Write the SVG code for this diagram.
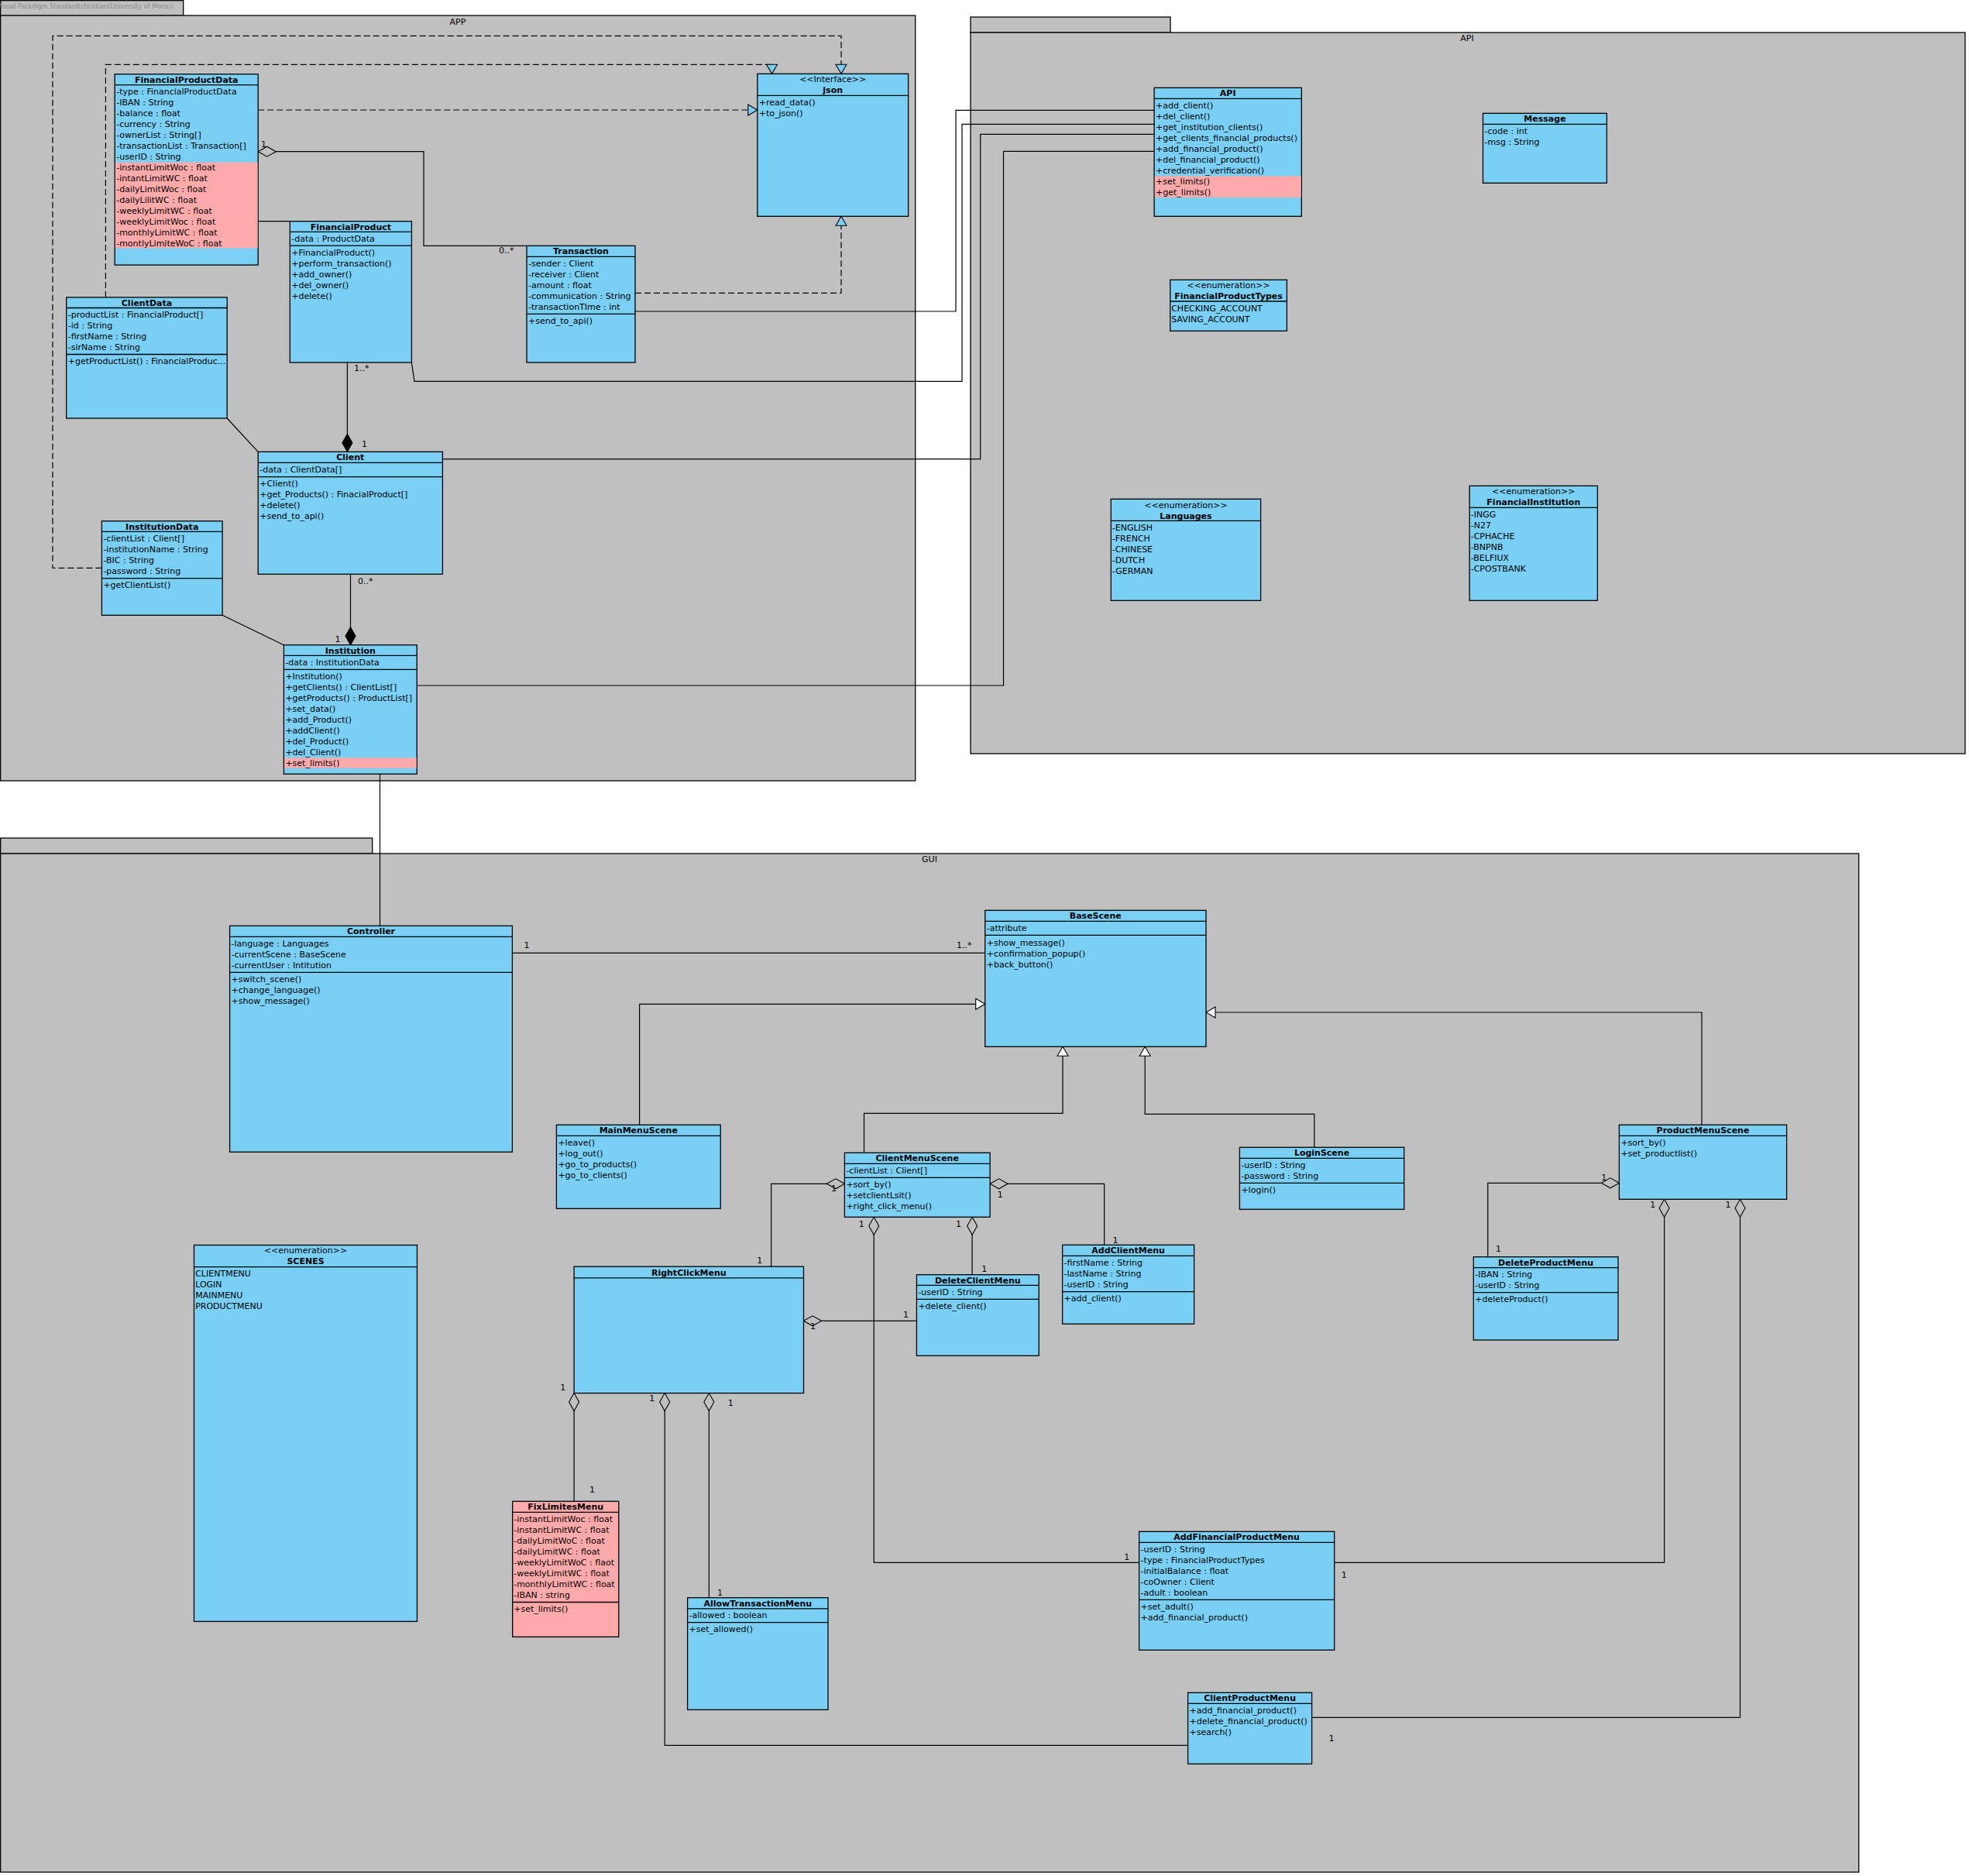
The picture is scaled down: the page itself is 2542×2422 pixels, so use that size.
<svg xmlns="http://www.w3.org/2000/svg" width="2542" height="2422" viewBox="0 0 2542 2422">
<style>
.pkg{fill:#C0C0C0;stroke:#000;stroke-width:1.3}
.cls{fill:#7ACFF5;stroke:#000;stroke-width:1.3}
.pk{fill:#FFAAAA}
.pkc{fill:#FFAAAA;stroke:#000;stroke-width:1.3}
.sep{stroke:#000;stroke-width:1.3}
text{font-family:'DejaVu Sans','Liberation Sans',sans-serif;font-size:11px;fill:#000}
.n{font-weight:bold;text-anchor:middle}
.c{text-anchor:middle}
.conn{fill:none;stroke:#000;stroke-width:1.2}
.dash{stroke-dasharray:8,4}
.tab{font-size:8.5px;fill:#8c8c8c}
</style>
<defs>
<marker id="tri" viewBox="-1 -1 14 16" refX="12" refY="7" markerWidth="14" markerHeight="16" markerUnits="userSpaceOnUse" orient="auto"><path d="M0,0 L12,7 L0,14 z" fill="#fff" stroke="#000" stroke-width="1.1"/></marker>
<marker id="trib" viewBox="-1 -1 14 16" refX="12" refY="7" markerWidth="14" markerHeight="16" markerUnits="userSpaceOnUse" orient="auto"><path d="M0,0 L12,7 L0,14 z" fill="#7ACFF5" stroke="#000" stroke-width="1.1"/></marker>
<marker id="dia" viewBox="-1 -1 25 15" refX="0" refY="6.5" markerWidth="25" markerHeight="15" markerUnits="userSpaceOnUse" orient="auto"><path d="M0,6.5 L11.5,0 L23,6.5 L11.5,13 z" fill="#C0C0C0" stroke="#000" stroke-width="1.1"/></marker>
<marker id="diaf" viewBox="-1 -1 25 15" refX="0" refY="6.5" markerWidth="25" markerHeight="15" markerUnits="userSpaceOnUse" orient="auto"><path d="M0,6.5 L11.5,0 L23,6.5 L11.5,13 z" fill="#000" stroke="#000" stroke-width="1.1"/></marker>
</defs>
<rect width="2542" height="2422" fill="#fff"/>

<g id="packages">
<g id="pkg-app">
<rect class="pkg" x="0.7" y="0.7" width="236" height="19.5"/>
<text class="tab" x="-4" y="10.5" textLength="228" lengthAdjust="spacingAndGlyphs">Visual Paradigm Standard(christian(University of Mons))</text>
<rect class="pkg" x="0.7" y="20" width="1181" height="988"/>
<text class="c" x="591" y="31.5">APP</text>
</g>
<g id="pkg-api">
<rect class="pkg" x="1253" y="22" width="258" height="20"/>
<rect class="pkg" x="1253" y="42" width="1284" height="931"/>
<text class="c" x="1894" y="53">API</text>
</g>
<g id="pkg-gui">
<rect class="pkg" x="0.7" y="1082" width="480" height="20"/>
<rect class="pkg" x="0.7" y="1102" width="2399" height="1315"/>
<text class="c" x="1200" y="1113">GUI</text>
</g>
</g>

<g id="connectors">
<path class="conn dash" d="M131.4,733.3 H68 V46.4 H1086 V95.3" marker-end="url(#trib)"/>
<path class="conn dash" d="M136.4,383.9 V83.3 H996.5 V95.3" marker-end="url(#trib)"/>
<path class="conn dash" d="M333.2,142 H977.8" marker-end="url(#trib)"/>
<path class="conn dash" d="M820,378.3 H1086 V279.3" marker-end="url(#trib)"/>
<path class="conn" d="M333.2,195.7 H547 V317.3 H680" marker-start="url(#dia)"/>
<path class="conn" d="M333.2,285.7 H374.3"/>
<path class="conn" d="M448.4,583.3 V468" marker-start="url(#diaf)"/>
<path class="conn" d="M293.2,540 L333.2,583.3"/>
<path class="conn" d="M452.5,832.7 V741.3" marker-start="url(#diaf)"/>
<path class="conn" d="M287.1,794.3 L366.4,832.7"/>
<path class="conn" d="M490.5,999.3 V1195.3"/>
<path class="conn" d="M531.4,468 L535,492.3 H1242 V160.3 H1490.1"/>
<path class="conn" d="M820,402 H1234 V142.3 H1490.1"/>
<path class="conn" d="M571.4,592.7 H1265.7 V173.3 H1490.1"/>
<path class="conn" d="M538.2,885 H1295.5 V195.3 H1490.1"/>

<path class="conn" d="M661.4,1230.3 H1271.7"/>
<path class="conn" d="M825.6,1452.3 V1296.3 H1271.7" marker-end="url(#tri)"/>
<path class="conn" d="M1115.5,1488.3 V1437.3 H1372 V1351.3" marker-end="url(#tri)"/>
<path class="conn" d="M1696.8,1481.3 V1438.3 H1478.2 V1351.3" marker-end="url(#tri)"/>
<path class="conn" d="M2197,1452.3 V1307 H1557" marker-end="url(#tri)"/>
<path class="conn" d="M1090.4,1528.3 H995.6 V1635.2" marker-start="url(#dia)"/>
<path class="conn" d="M1278.1,1528.3 H1425.6 V1607.3" marker-start="url(#dia)"/>
<path class="conn" d="M1128.2,1571.3 V2017.3 H1470.6" marker-start="url(#dia)"/>
<path class="conn" d="M1255.1,1571.3 V1645.7" marker-start="url(#dia)"/>
<path class="conn" d="M1037.5,1705.3 H1183.4" marker-start="url(#dia)"/>
<path class="conn" d="M741.1,1798.6 V1938.3" marker-start="url(#dia)"/>
<path class="conn" d="M858.2,1798.6 V2253.3 H1533.6" marker-start="url(#dia)"/>
<path class="conn" d="M915.3,1798.6 V2062.7" marker-start="url(#dia)"/>
<path class="conn" d="M2090.4,1527.3 H1920.8 V1622.7" marker-start="url(#dia)"/>
<path class="conn" d="M2148.6,1548.3 V2017.3 H1722.7" marker-start="url(#dia)"/>
<path class="conn" d="M2246.5,1548.3 V2217.3 H1693.6" marker-start="url(#dia)"/>

<g id="multiplicities">
<text x="337" y="190">1</text>
<text x="644" y="327">0..*</text>
<text x="457" y="479">1..*</text>
<text x="467" y="577">1</text>
<text x="462" y="754">0..*</text>
<text x="432.5" y="829">1</text>
<text x="676.4" y="1224">1</text>
<text x="1235" y="1224">1..*</text>
<text x="1073" y="1538">1</text>
<text x="977.3" y="1631">1</text>
<text x="1287.8" y="1546">1</text>
<text x="1436.5" y="1605">1</text>
<text x="1108.7" y="1584">1</text>
<text x="1233.9" y="1584">1</text>
<text x="1267.2" y="1642">1</text>
<text x="1166" y="1701">1</text>
<text x="1046" y="1716">1</text>
<text x="723.3" y="1795">1</text>
<text x="838.2" y="1809">1</text>
<text x="939.8" y="1815">1</text>
<text x="761" y="1927">1</text>
<text x="925.9" y="2060">1</text>
<text x="1451.2" y="2014">1</text>
<text x="1731.8" y="2037">1</text>
<text x="1537.3" y="2247">1</text>
<text x="1715.5" y="2248">1</text>
<text x="2067.2" y="1524">1</text>
<text x="1931" y="1616">1</text>
<text x="2130.2" y="1559">1</text>
<text x="2227.6" y="1559">1</text>
</g>
</g>

<g id="FinancialProductData">
<rect class="cls" x="148.2" y="95.7" width="185" height="246.4"/>
<rect class="pk" x="148.9" y="209.6" width="183.6" height="110.8"/>
<line class="sep" x1="148.2" y1="109.6" x2="333.2" y2="109.6"/>
<text class="n" x="240.7" y="106.5">FinancialProductData</text>
<text x="150.2" y="122.1">-type : FinancialProductData</text>
<text x="150.2" y="136.1">-IBAN : String</text>
<text x="150.2" y="150.1">-balance : float</text>
<text x="150.2" y="164.1">-currency : String</text>
<text x="150.2" y="178.1">-ownerList : String[]</text>
<text x="150.2" y="192.1">-transactionList : Transaction[]</text>
<text x="150.2" y="206.1">-userID : String</text>
<text x="150.2" y="220.1">-instantLimitWoc : float</text>
<text x="150.2" y="234.1">-intantLimitWC  : float</text>
<text x="150.2" y="248.1">-dailyLimitWoc  : float</text>
<text x="150.2" y="262.1">-dailyLilitWC : float</text>
<text x="150.2" y="276.1">-weeklyLimitWC : float</text>
<text x="150.2" y="290.1">-weeklyLimitWoc : float</text>
<text x="150.2" y="304.1">-monthlyLimitWC  : float</text>
<text x="150.2" y="318.1">-montlyLimiteWoC : float</text>
</g>

<g id="FinancialProduct">
<rect class="cls" x="374.3" y="285.7" width="157.1" height="182.3"/>
<line class="sep" x1="374.3" y1="299.3" x2="531.4" y2="299.3"/>
<line class="sep" x1="374.3" y1="317.1" x2="531.4" y2="317.1"/>
<text class="n" x="452.9" y="296.5">FinancialProduct</text>
<text x="376.3" y="311.8">-data : ProductData</text>
<text x="376.3" y="329.6">+FinancialProduct()</text>
<text x="376.3" y="343.6">+perform_transaction()</text>
<text x="376.3" y="357.6">+add_owner()</text>
<text x="376.3" y="371.6">+del_owner()</text>
<text x="376.3" y="385.6">+delete()</text>
</g>

<g id="Transaction">
<rect class="cls" x="680" y="317.3" width="140" height="150.7"/>
<line class="sep" x1="680" y1="331.3" x2="820" y2="331.3"/>
<line class="sep" x1="680" y1="405.3" x2="820" y2="405.3"/>
<text class="n" x="750" y="328.3">Transaction</text>
<text x="682" y="343.8">-sender : Client</text>
<text x="682" y="357.8">-receiver : Client</text>
<text x="682" y="371.8">-amount : float</text>
<text x="682" y="385.8">-communication : String</text>
<text x="682" y="399.8">-transactionTIme : int</text>
<text x="682" y="417.8">+send_to_api()</text>
</g>

<g id="json">
<rect class="cls" x="977.8" y="95.3" width="194.8" height="184"/>
<line class="sep" x1="977.8" y1="123.3" x2="1172.6" y2="123.3"/>
<text class="c" x="1075.2" y="106.3">&lt;&lt;Interface&gt;&gt;</text>
<text class="n" x="1075.2" y="120.3">json</text>
<text x="979.8" y="136.3">+read_data()</text>
<text x="979.8" y="150.3">+to_json()</text>
</g>

<g id="ClientData">
<rect class="cls" x="85.7" y="383.9" width="207.5" height="156.1"/>
<line class="sep" x1="85.7" y1="397.5" x2="293.2" y2="397.5"/>
<line class="sep" x1="85.7" y1="457.5" x2="293.2" y2="457.5"/>
<text class="n" x="189.5" y="394.5">ClientData</text>
<text x="87.7" y="410">-productList : FinancialProduct[]</text>
<text x="87.7" y="424">-id : String</text>
<text x="87.7" y="438">-firstName : String</text>
<text x="87.7" y="452">-sirName : String</text>
<text x="87.7" y="470">+getProductList() : FinancialProduc...</text>
</g>

<g id="Client">
<rect class="cls" x="333.2" y="583.3" width="238.2" height="158"/>
<line class="sep" x1="333.2" y1="597.3" x2="571.4" y2="597.3"/>
<line class="sep" x1="333.2" y1="615.7" x2="571.4" y2="615.7"/>
<text class="n" x="452.3" y="594.3">Client</text>
<text x="335.2" y="610">-data : ClientData[]</text>
<text x="335.2" y="628.2">+Client()</text>
<text x="335.2" y="642.2">+get_Products() : FinacialProduct[]</text>
<text x="335.2" y="656.2">+delete()</text>
<text x="335.2" y="670.2">+send_to_api()</text>
</g>

<g id="InstitutionData">
<rect class="cls" x="131.4" y="672.7" width="155.7" height="121.6"/>
<line class="sep" x1="131.4" y1="686.3" x2="287.1" y2="686.3"/>
<line class="sep" x1="131.4" y1="746.7" x2="287.1" y2="746.7"/>
<text class="n" x="209.2" y="683.5">InstitutionData</text>
<text x="133.4" y="698.8">-clientList : Client[]</text>
<text x="133.4" y="712.8">-institutionName : String</text>
<text x="133.4" y="726.8">-BIC : String</text>
<text x="133.4" y="740.8">-password : String</text>
<text x="133.4" y="759.2">+getClientList()</text>
</g>

<g id="Institution">
<rect class="cls" x="366.4" y="832.7" width="171.8" height="166.6"/>
<rect class="pk" x="367.1" y="978.3" width="170.4" height="13.4"/>
<line class="sep" x1="366.4" y1="846.3" x2="538.2" y2="846.3"/>
<line class="sep" x1="366.4" y1="864.3" x2="538.2" y2="864.3"/>
<text class="n" x="452.3" y="843.5">Institution</text>
<text x="368.4" y="858.8">-data : InstitutionData</text>
<text x="368.4" y="876.8">+Institution()</text>
<text x="368.4" y="890.8">+getClients() : ClientList[]</text>
<text x="368.4" y="904.8">+getProducts() : ProductList[]</text>
<text x="368.4" y="918.8">+set_data()</text>
<text x="368.4" y="932.8">+add_Product()</text>
<text x="368.4" y="946.8">+addClient()</text>
<text x="368.4" y="960.8">+del_Product()</text>
<text x="368.4" y="974.8">+del_Client()</text>
<text x="368.4" y="988.8">+set_limits()</text>
</g>

<g id="API">
<rect class="cls" x="1490.1" y="113.3" width="190.2" height="166"/>
<rect class="pk" x="1490.8" y="227.3" width="188.8" height="27.7"/>
<line class="sep" x1="1490.1" y1="127.3" x2="1680.3" y2="127.3"/>
<text class="n" x="1585.2" y="124.3">API</text>
<text x="1492.1" y="140.3">+add_client()</text>
<text x="1492.1" y="154.3">+del_client()</text>
<text x="1492.1" y="168.3">+get_institution_clients()</text>
<text x="1492.1" y="182.3">+get_clients_financial_products()</text>
<text x="1492.1" y="196.3">+add_financial_product()</text>
<text x="1492.1" y="210.3">+del_financial_product()</text>
<text x="1492.1" y="224.3">+credential_verification()</text>
<text x="1492.1" y="238.3">+set_limits()</text>
<text x="1492.1" y="252.3">+get_limits()</text>
</g>

<g id="Message">
<rect class="cls" x="1914.5" y="146.3" width="159.9" height="90"/>
<line class="sep" x1="1914.5" y1="160.3" x2="2074.4" y2="160.3"/>
<text class="n" x="1994.5" y="157.3">Message</text>
<text x="1916.5" y="173">-code : int</text>
<text x="1916.5" y="187">-msg : String</text>
</g>

<g id="FinancialProductTypes">
<rect class="cls" x="1510.7" y="361.3" width="150.7" height="66"/>
<line class="sep" x1="1510.7" y1="389" x2="1661.4" y2="389"/>
<text class="c" x="1586" y="372.3">&lt;&lt;enumeration&gt;&gt;</text>
<text class="n" x="1586" y="386.3">FinancialProductTypes</text>
<text x="1512.2" y="402">CHECKING_ACCOUNT</text>
<text x="1512.2" y="416">SAVING_ACCOUNT</text>
</g>

<g id="Languages">
<rect class="cls" x="1434.3" y="644.3" width="193.3" height="131"/>
<line class="sep" x1="1434.3" y1="672.3" x2="1627.6" y2="672.3"/>
<text class="c" x="1531" y="655.7">&lt;&lt;enumeration&gt;&gt;</text>
<text class="n" x="1531" y="669.7">Languages</text>
<text x="1435.8" y="685">-ENGLISH</text>
<text x="1435.8" y="699">-FRENCH</text>
<text x="1435.8" y="713">-CHINESE</text>
<text x="1435.8" y="727">-DUTCH</text>
<text x="1435.8" y="741">-GERMAN</text>
</g>

<g id="FinancialInstitution">
<rect class="cls" x="1897.2" y="627.3" width="165.2" height="148"/>
<line class="sep" x1="1897.2" y1="655.3" x2="2062.4" y2="655.3"/>
<text class="c" x="1979.8" y="638.3">&lt;&lt;enumeration&gt;&gt;</text>
<text class="n" x="1979.8" y="652">FinancialInstitution</text>
<text x="1898.7" y="668">-INGG</text>
<text x="1898.7" y="682">-N27</text>
<text x="1898.7" y="696">-CPHACHE</text>
<text x="1898.7" y="710">-BNPNB</text>
<text x="1898.7" y="724">-BELFIUX</text>
<text x="1898.7" y="738">-CPOSTBANK</text>
</g>

<g id="Controller">
<rect class="cls" x="296.6" y="1195.3" width="364.8" height="292"/>
<line class="sep" x1="296.6" y1="1209.3" x2="661.4" y2="1209.3"/>
<line class="sep" x1="296.6" y1="1255.3" x2="661.4" y2="1255.3"/>
<text class="n" x="479" y="1206.3">Controller</text>
<text x="298.6" y="1222">-language : Languages</text>
<text x="298.6" y="1236">-currentScene : BaseScene</text>
<text x="298.6" y="1250">-currentUser : Intitution</text>
<text x="298.6" y="1268">+switch_scene()</text>
<text x="298.6" y="1282">+change_language()</text>
<text x="298.6" y="1296">+show_message()</text>
</g>

<g id="BaseScene">
<rect class="cls" x="1271.7" y="1175.3" width="285.3" height="176"/>
<line class="sep" x1="1271.7" y1="1189.3" x2="1557" y2="1189.3"/>
<line class="sep" x1="1271.7" y1="1207.3" x2="1557" y2="1207.3"/>
<text class="n" x="1414.3" y="1186.3">BaseScene</text>
<text x="1273.7" y="1202.3">-attribute</text>
<text x="1273.7" y="1220.7">+show_message()</text>
<text x="1273.7" y="1234.7">+confirmation_popup()</text>
<text x="1273.7" y="1248.7">+back_button()</text>
</g>

<g id="MainMenuScene">
<rect class="cls" x="718.4" y="1452.3" width="211.8" height="108"/>
<line class="sep" x1="718.4" y1="1466.3" x2="930.2" y2="1466.3"/>
<text class="n" x="824.3" y="1463.3">MainMenuScene</text>
<text x="720.4" y="1479">+leave()</text>
<text x="720.4" y="1493">+log_out()</text>
<text x="720.4" y="1507">+go_to_products()</text>
<text x="720.4" y="1521">+go_to_clients()</text>
</g>

<g id="ClientMenuScene">
<rect class="cls" x="1090.4" y="1488.3" width="187.7" height="83"/>
<line class="sep" x1="1090.4" y1="1502.3" x2="1278.1" y2="1502.3"/>
<line class="sep" x1="1090.4" y1="1520.3" x2="1278.1" y2="1520.3"/>
<text class="n" x="1184.2" y="1499.3">ClientMenuScene</text>
<text x="1092.4" y="1515">-clientList : Client[]</text>
<text x="1092.4" y="1533.3">+sort_by()</text>
<text x="1092.4" y="1547.3">+setclientLsit()</text>
<text x="1092.4" y="1561.3">+right_click_menu()</text>
</g>

<g id="LoginScene">
<rect class="cls" x="1600.4" y="1481.3" width="212.3" height="80"/>
<line class="sep" x1="1600.4" y1="1495.3" x2="1812.7" y2="1495.3"/>
<line class="sep" x1="1600.4" y1="1527.3" x2="1812.7" y2="1527.3"/>
<text class="n" x="1706.5" y="1492.3">LoginScene</text>
<text x="1602.4" y="1508.3">-userID : String</text>
<text x="1602.4" y="1522.3">-password : String</text>
<text x="1602.4" y="1540.3">+login()</text>
</g>

<g id="ProductMenuScene">
<rect class="cls" x="2090.4" y="1452.3" width="216.2" height="96"/>
<line class="sep" x1="2090.4" y1="1466.3" x2="2306.6" y2="1466.3"/>
<text class="n" x="2198.5" y="1463.3">ProductMenuScene</text>
<text x="2092.4" y="1479">+sort_by()</text>
<text x="2092.4" y="1493">+set_productlist()</text>
</g>

<g id="DeleteProductMenu">
<rect class="cls" x="1902.3" y="1622.7" width="186.7" height="107.3"/>
<line class="sep" x1="1902.3" y1="1636.7" x2="2089" y2="1636.7"/>
<line class="sep" x1="1902.3" y1="1668.7" x2="2089" y2="1668.7"/>
<text class="n" x="1995.6" y="1633.7">DeleteProductMenu</text>
<text x="1904.3" y="1649.3">-IBAN : String</text>
<text x="1904.3" y="1663.3">-userID : String</text>
<text x="1904.3" y="1681.3">+deleteProduct()</text>
</g>

<g id="AddClientMenu">
<rect class="cls" x="1371.6" y="1607.3" width="170" height="102"/>
<line class="sep" x1="1371.6" y1="1621.3" x2="1541.6" y2="1621.3"/>
<line class="sep" x1="1371.6" y1="1667.7" x2="1541.6" y2="1667.7"/>
<text class="n" x="1456.6" y="1618.3">AddClientMenu</text>
<text x="1373.6" y="1634.3">-firstName : String</text>
<text x="1373.6" y="1648.3">-lastName : String</text>
<text x="1373.6" y="1662.3">-userID : String</text>
<text x="1373.6" y="1680.3">+add_client()</text>
</g>

<g id="DeleteClientMenu">
<rect class="cls" x="1183.4" y="1645.7" width="157.8" height="104.6"/>
<line class="sep" x1="1183.4" y1="1659.3" x2="1341.2" y2="1659.3"/>
<line class="sep" x1="1183.4" y1="1677.3" x2="1341.2" y2="1677.3"/>
<text class="n" x="1262.3" y="1656.5">DeleteClientMenu</text>
<text x="1185.4" y="1672.3">-userID : String</text>
<text x="1185.4" y="1690.3">+delete_client()</text>
</g>

<g id="RightClickMenu">
<rect class="cls" x="741.1" y="1635.2" width="296.4" height="163.4"/>
<line class="sep" x1="741.1" y1="1649.8" x2="1037.5" y2="1649.8"/>
<text class="n" x="889.3" y="1646.5">RightClickMenu</text>
</g>

<g id="SCENES">
<rect class="cls" x="250.5" y="1607.5" width="288" height="485.9"/>
<line class="sep" x1="250.5" y1="1635.7" x2="538.5" y2="1635.7"/>
<text class="c" x="394.5" y="1618">&lt;&lt;enumeration&gt;&gt;</text>
<text class="n" x="394.5" y="1632">SCENES</text>
<text x="252.2" y="1648">CLIENTMENU</text>
<text x="252.2" y="1662">LOGIN</text>
<text x="252.2" y="1676">MAINMENU</text>
<text x="252.2" y="1690">PRODUCTMENU</text>
</g>

<g id="FixLimitesMenu">
<rect class="pkc" x="661.7" y="1938.3" width="137.1" height="175"/>
<line class="sep" x1="661.7" y1="1952.4" x2="798.8" y2="1952.4"/>
<line class="sep" x1="661.7" y1="2068.5" x2="798.8" y2="2068.5"/>
<text class="n" x="730.2" y="1949">FixLimitesMenu</text>
<text x="663.2" y="1965">-instantLimitWoc : float</text>
<text x="663.2" y="1979">-instantLimitWC : float</text>
<text x="663.2" y="1993">-dailyLimitWoC : float</text>
<text x="663.2" y="2007">-dailyLimitWC : float</text>
<text x="663.2" y="2021">-weeklyLimitWoC : flaot</text>
<text x="663.2" y="2035">-weeklyLimitWC : float</text>
<text x="663.2" y="2049">-monthlyLimitWC : float</text>
<text x="663.2" y="2063">-IBAN : string</text>
<text x="663.2" y="2081.2">+set_limits()</text>
</g>

<g id="AllowTransactionMenu">
<rect class="cls" x="887.6" y="2062.7" width="181.4" height="144.7"/>
<line class="sep" x1="887.6" y1="2076.8" x2="1069" y2="2076.8"/>
<line class="sep" x1="887.6" y1="2094.6" x2="1069" y2="2094.6"/>
<text class="n" x="978.3" y="2073.5">AllowTransactionMenu</text>
<text x="889.6" y="2089">-allowed : boolean</text>
<text x="889.6" y="2107.3">+set_allowed()</text>
</g>

<g id="AddFinancialProductMenu">
<rect class="cls" x="1470.6" y="1977.3" width="252.1" height="153"/>
<line class="sep" x1="1470.6" y1="1991.3" x2="1722.7" y2="1991.3"/>
<line class="sep" x1="1470.6" y1="2065.3" x2="1722.7" y2="2065.3"/>
<text class="n" x="1596.6" y="1988.3">AddFinancialProductMenu</text>
<text x="1472.6" y="2004.3">-userID : String</text>
<text x="1472.6" y="2018.3">-type : FinancialProductTypes</text>
<text x="1472.6" y="2032.3">-initialBalance : float</text>
<text x="1472.6" y="2046.3">-coOwner : Client</text>
<text x="1472.6" y="2060.3">-adult : boolean</text>
<text x="1472.6" y="2078.3">+set_adult()</text>
<text x="1472.6" y="2092.3">+add_financial_product()</text>
</g>

<g id="ClientProductMenu">
<rect class="cls" x="1533.6" y="2185.3" width="160" height="92"/>
<line class="sep" x1="1533.6" y1="2199.3" x2="1693.6" y2="2199.3"/>
<text class="n" x="1613.6" y="2196.3">ClientProductMenu</text>
<text x="1535.6" y="2212.3">+add_financial_product()</text>
<text x="1535.6" y="2226.3">+delete_financial_product()</text>
<text x="1535.6" y="2240.3">+search()</text>
</g>
</svg>
